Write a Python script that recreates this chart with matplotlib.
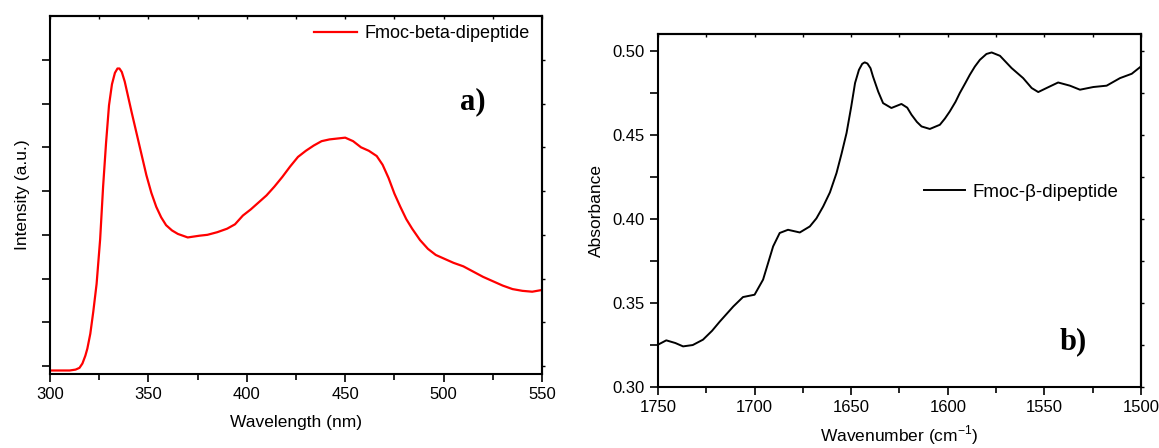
import matplotlib.pyplot as plt

plt.rcParams['font.family'] = ['Liberation Sans', 'DejaVu Sans']

# panel a) fluorescence
wl = [300, 305, 310, 313, 315, 316.5, 318, 319, 320.5, 322, 323.7, 325.5, 327,
      328.5, 330, 331.5, 333, 334.3, 335.3, 336.5, 338, 339.5, 341.5, 344, 346.5,
      349, 351.5, 354, 356.5, 359, 362, 365, 370, 376, 380, 385, 390, 394, 398,
      402, 406, 410, 414, 418, 422, 426, 430, 434, 438, 442, 446, 450, 454, 458,
      462, 466, 469, 472, 475, 478, 481, 484, 488, 492, 496, 500, 505, 510, 515,
      520, 525, 530, 535, 540, 545, 550]
intensity = [-0.05, -0.05, -0.05, -0.04, -0.02, 0.03, 0.12, 0.2, 0.37, 0.62,
             0.94, 1.45, 2.05, 2.55, 2.98, 3.22, 3.35, 3.40, 3.40, 3.36, 3.25,
             3.10, 2.90, 2.66, 2.42, 2.18, 1.98, 1.82, 1.70, 1.61, 1.55, 1.51,
             1.47, 1.49, 1.50, 1.53, 1.57, 1.62, 1.72, 1.79, 1.87, 1.95, 2.05,
             2.16, 2.28, 2.39, 2.46, 2.52, 2.57, 2.59, 2.60, 2.61, 2.57, 2.50,
             2.46, 2.40, 2.30, 2.15, 1.97, 1.82, 1.68, 1.57, 1.44, 1.34, 1.27,
             1.23, 1.18, 1.14, 1.08, 1.02, 0.97, 0.92, 0.88, 0.86, 0.85, 0.87]

# panel b) FTIR
wn = [1750, 1745.7, 1741, 1737, 1732, 1726.7, 1722, 1718, 1711, 1706, 1700,
      1695.6, 1690.4, 1687, 1682.7, 1676.6, 1671.4, 1668, 1664.5, 1661, 1657.6,
      1655, 1652.4, 1650, 1648, 1646, 1644.3, 1643, 1641.6, 1640, 1638.7, 1636,
      1633.5, 1629.2, 1624, 1621, 1618.8, 1616, 1613.6, 1609.3, 1604.1, 1601.5,
      1599, 1596, 1593.8, 1591, 1588.6, 1586, 1583.4, 1580, 1577.3, 1573, 1567,
      1561, 1556.6, 1553.2, 1548.9, 1542.9, 1536.8, 1531.6, 1524.7, 1517.8,
      1510.9, 1504.8, 1500]
absorb = [0.3252, 0.3278, 0.3262, 0.3242, 0.3250, 0.3282, 0.3335, 0.339, 0.348,
          0.3536, 0.355, 0.364, 0.3838, 0.3918, 0.3937, 0.3921, 0.3957, 0.4005,
          0.4076, 0.4160, 0.4275, 0.4390, 0.4514, 0.4670, 0.4812, 0.4890, 0.4926,
          0.4935, 0.4928, 0.4900, 0.485, 0.4760, 0.4692, 0.4663, 0.4687, 0.4665,
          0.4623, 0.4580, 0.4553, 0.4538, 0.4563, 0.4600, 0.4642, 0.4700, 0.4752,
          0.4810, 0.4861, 0.4910, 0.495, 0.4985, 0.4994, 0.4974, 0.4901, 0.4841,
          0.4782, 0.4758, 0.4782, 0.4815, 0.4796, 0.4772, 0.4788, 0.4796, 0.4841,
          0.4867, 0.4911]

fig = plt.figure(figsize=(11.59, 4.48), dpi=100)
ax1 = fig.add_axes([0.0431, 0.1652, 0.4246, 0.7991])
ax2 = fig.add_axes([0.5677, 0.1362, 0.4168, 0.7879])

for ax in (ax1, ax2):
    for s in ax.spines.values():
        s.set_linewidth(1.5)
    ax.tick_params(which='both', direction='out', width=1.2, labelsize=12)
    ax.tick_params(which='major', length=6)
    ax.tick_params(axis='y', which='minor', length=6)
    ax.tick_params(axis='x', which='minor', length=4)

ax1.plot(wl, intensity, color='#ff0000', lw=1.6, label='Fmoc-beta-dipeptide')
ax1.set_xlim(300, 550)
ax1.set_ylim(-0.09, 4.0)
ax1.set_xticks([300, 350, 400, 450, 500, 550])
ax1.set_xticks([325, 375, 425, 475, 525], minor=True)
ax1.set_yticks([0, 1, 2, 3])
ax1.set_yticks([0.5, 1.5, 2.5, 3.5], minor=True)
ax1.set_yticklabels([])
ax1.set_xlabel('Wavelength (nm)', fontsize=12.5, labelpad=9)
ax1.set_ylabel('Intensity (a.u.)', fontsize=12.5, labelpad=5)
ax1.legend(loc='upper right', frameon=False, fontsize=13, handlelength=2.4,
           handletextpad=0.4, borderaxespad=0.0, bbox_to_anchor=(0.99, 0.995))
ax1.text(0.86, 0.76, 'a)', transform=ax1.transAxes, fontsize=22,
         fontweight='bold', family='Liberation Serif', ha='center', va='center')

ax2.plot(wn, absorb, color='black', lw=1.4, label='Fmoc-\u03b2-dipeptide')
ax2.set_xlim(1750, 1500)
ax2.set_ylim(0.30, 0.5104)
ax2.set_xticks([1750, 1700, 1650, 1600, 1550, 1500])
ax2.set_xticks([1725, 1675, 1625, 1575, 1525], minor=True)
ax2.set_yticks([0.30, 0.35, 0.40, 0.45, 0.50])
ax2.set_yticks([0.325, 0.375, 0.425, 0.475], minor=True)
ax2.set_yticklabels(['0.30', '0.35', '0.40', '0.45', '0.50'])
ax2.set_xlabel('Wavenumber (cm$^{\\mathregular{-1}}$)', fontsize=12.5, labelpad=6)
ax2.set_ylabel('Absorbance', fontsize=12.5, labelpad=6)
ax2.legend(loc='center left', frameon=False, fontsize=13.5, handlelength=2.2,
           handletextpad=0.4, borderaxespad=0.0, bbox_to_anchor=(0.535, 0.552))
ax2.text(0.859, 0.127, 'b)', transform=ax2.transAxes, fontsize=22,
         fontweight='bold', family='Liberation Serif', ha='center', va='center')

# tiny ticks on the opposite spines
for ax in (ax1, ax2):
    sy = ax.secondary_yaxis('right')
    sy.set_yticks(list(ax.get_yticks()) + list(ax.get_yticks(minor=True)))
    sy.set_yticklabels([])
    sy.tick_params(length=2, width=1, direction='out')
    sy.spines['right'].set_linewidth(1.5)
    sx = ax.secondary_xaxis('top')
    sx.set_xticks(list(ax.get_xticks()) + list(ax.get_xticks(minor=True)))
    sx.set_xticklabels([])
    sx.tick_params(length=2, width=1, direction='in')
    sx.spines['top'].set_linewidth(1.5)

fig.savefig('out.png', dpi=100)
